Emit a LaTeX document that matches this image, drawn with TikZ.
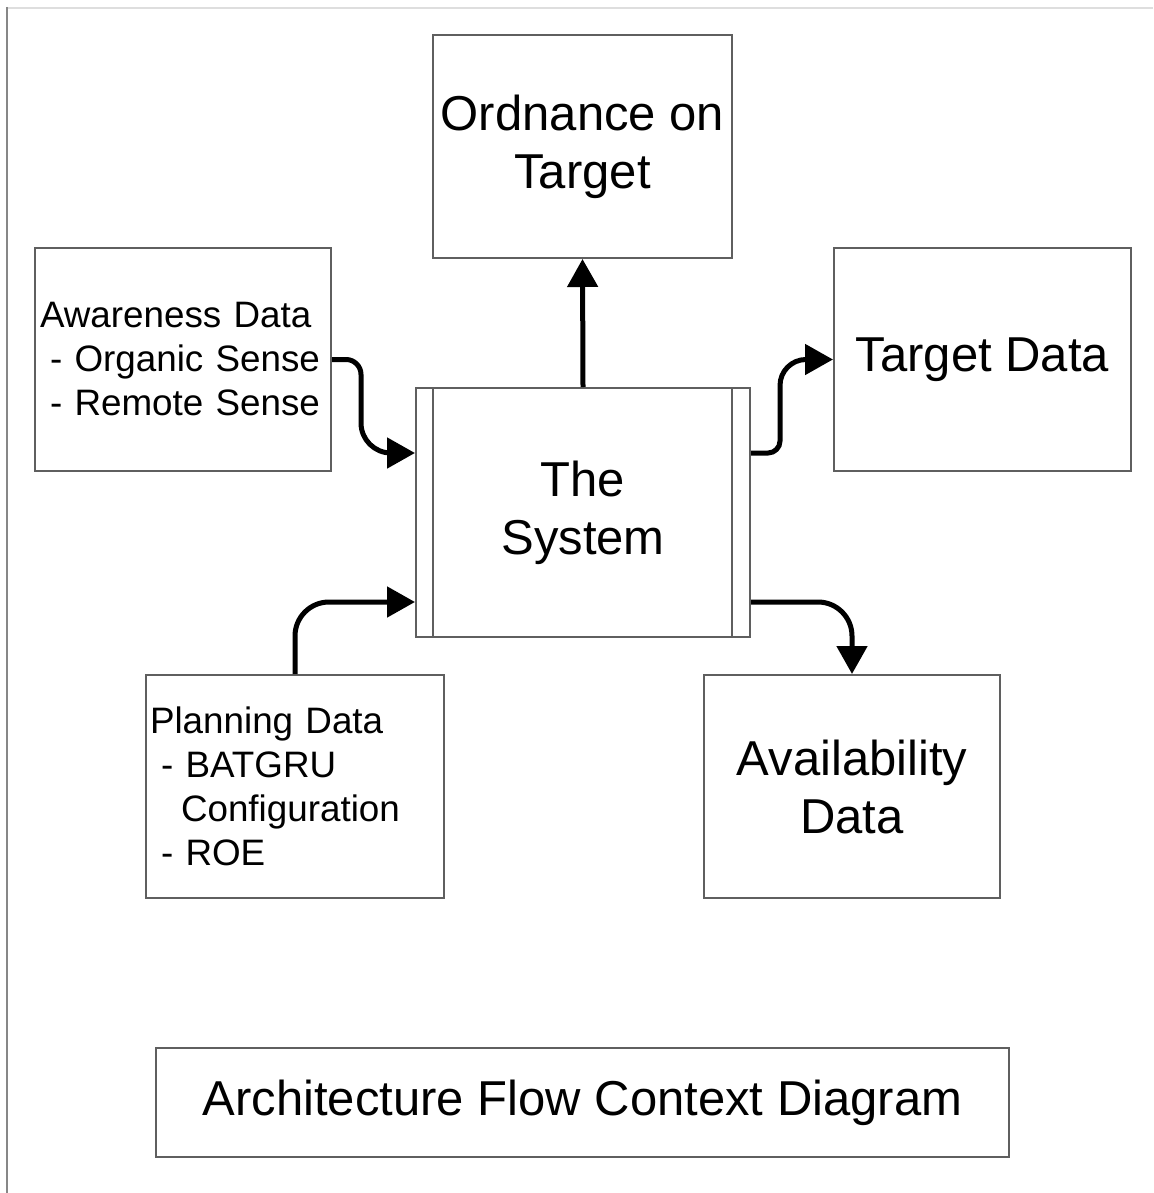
\documentclass[tikz,border=0pt]{standalone}
\usepackage{fontspec}
\setmainfont{Liberation Sans}
\usetikzlibrary{arrows.meta}
\definecolor{boxgray}{RGB}{95,95,95}
\definecolor{framegray}{RGB}{135,135,135}
\definecolor{framelight}{RGB}{222,222,222}
\tikzset{
  box/.style={draw=boxgray, line width=2pt, inner sep=0pt},
  bigtext/.style={font=\fontsize{49}{58}\selectfont, align=center},
  smalltext/.style={font=\fontsize{36.8}{44}\selectfont, align=left},
  flow/.style={line width=5pt, -{Triangle[length=28pt,width=30pt]}}
}
\begin{document}
\begin{tikzpicture}[x=1pt, y=-1pt]
  \useasboundingbox[fill=white] (0,0) rectangle (1153,1193);
  % page edges
  \draw[framelight, line width=2pt] (7,8) -- (1153,8);
  \draw[framegray, line width=2pt] (7,7) -- (7,1193);

  % central process with double side bars
  \node[box, minimum width=334pt, minimum height=249pt, bigtext] (sys) at (583,512.5) {The\\System};
  \draw[boxgray, line width=2pt] (433,388) -- (433,637);
  \draw[boxgray, line width=2pt] (732,388) -- (732,637);

  % surrounding entities
  \node[box, minimum width=299pt, minimum height=223pt, bigtext] (ord) at (582.5,146.5) {Ordnance on\\Target};
  \node[box, minimum width=296pt, minimum height=223pt, text width=286pt, smalltext] (aw) at (183,359.5)
    {Awareness Data\\\hspace*{10pt}- Organic Sense\\\hspace*{10pt}- Remote Sense};
  \node[box, minimum width=297pt, minimum height=223pt, bigtext] (td) at (982.5,359.5) {Target Data};
  \node[box, minimum width=298pt, minimum height=223pt, text width=290pt, smalltext] (pl) at (295,786.5)
    {Planning Data\\\hspace*{11pt}- BATGRU\\\hspace*{31pt}Configuration\\\hspace*{11pt}- ROE};
  \node[box, minimum width=296pt, minimum height=223pt, bigtext] (av) at (852,786.5) {Availability\\Data};

  % caption box
  \node[box, minimum width=853pt, minimum height=109pt, bigtext] (title) at (582.5,1102.5) {Architecture Flow Context Diagram};

  % data flows
  \draw[flow] (sys.north) -- (ord.south);
  \draw[flow] (aw.east) [rounded corners=15pt] -- (361,359.5) [rounded corners=30pt] -- (361,453) -- (sys.west |- 0,453);
  \draw[flow] (sys.east |- 0,453) [rounded corners=12pt] -- (780,453) [rounded corners=26pt] -- (780,359.5) -- (td.west);
  \draw[flow, rounded corners=34pt] (pl.north -| 295,0) -- (295,602) -- (sys.west |- 0,602);
  \draw[flow, rounded corners=34pt] (sys.east |- 0,602) -- (852,602) -- (av.north);
\end{tikzpicture}
\end{document}
